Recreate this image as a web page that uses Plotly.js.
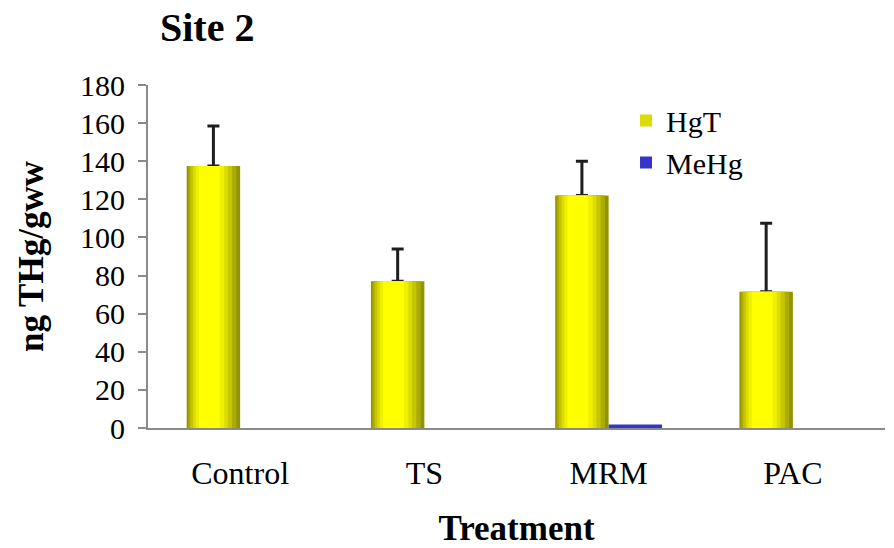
<!DOCTYPE html>
<html>
<head>
<meta charset="utf-8">
<script src="https://cdn.plot.ly/plotly-3.0.1.min.js"></script>
<style>html,body{margin:0;padding:0;background:#fff;}#chart{width:894px;height:548px;}</style>
</head>
<body>
<div id="chart"></div>
<script>
// ---- data ----
const categories = ["Control", "TS", "MRM", "PAC"];
const hgtValues = [137.5, 77, 122, 71.5];
const hgtErrors = [21, 17, 18, 36];
const mehgValues = [0, 0, 1.8, 0];
const yTickValues = [0, 20, 40, 60, 80, 100, 120, 140, 160, 180];

// ---- styling: simulated cylinder shading via overlaid bars ----
const barW = 0.29;
const shadeLayers = [
  {s: 0.00, e: 1.00, c: "#939300"},
  {s: 0.03, e: 0.93, c: "#abab00"},
  {s: 0.07, e: 0.85, c: "#c5c500"},
  {s: 0.12, e: 0.77, c: "#dcdc00"},
  {s: 0.17, e: 0.70, c: "#efef00"},
  {s: 0.23, e: 0.62, c: "#ffff00"}
];

const traces = [];
shadeLayers.forEach((L, i) => {
  const t = {
    type: "bar",
    x: categories,
    y: hgtValues,
    name: "HgT",
    legendgroup: "hgt",
    showlegend: i === 3,
    legendrank: 1,
    offset: -barW + L.s * barW,
    width: (L.e - L.s) * barW,
    marker: {color: L.c, line: {width: 0}},
    hoverinfo: "skip"
  };
  if (i === 0) {
    t.error_y = {
      type: "data", symmetric: false, array: hgtErrors,
      arrayminus: hgtErrors.map(() => 0),
      color: "#1e1e1e", thickness: 3, width: 6
    };
  }
  traces.push(t);
});
traces.push({
  type: "bar",
  x: categories,
  y: mehgValues,
  name: "MeHg",
  legendrank: 2,
  offset: 0,
  width: barW,
  marker: {color: "#3535cc", line: {width: 0}}
});

const serif = "Liberation Serif, Times New Roman, serif";
const layout = {
  width: 894, height: 548,
  margin: {l: 148, r: 9, t: 85, b: 120},
  paper_bgcolor: "#fff", plot_bgcolor: "#fff",
  barmode: "overlay",
  title: {
    text: "<b>Site 2</b>",
    font: {family: serif, size: 40, color: "#000"},
    xref: "container", yref: "container",
    x: 160 / 894, xanchor: "left",
    y: 1 - 27 / 548, yanchor: "middle"
  },
  xaxis: {
    type: "category",
    showline: true, linecolor: "#8a8a8a", linewidth: 2,
    ticks: "", showgrid: false, zeroline: false,
    tickfont: {family: serif, size: 32, color: "#000"},
    ticklabelstandoff: 16,
    title: {text: "<b>Treatment</b>", font: {family: serif, size: 35, color: "#000"}, standoff: 44}
  },
  yaxis: {
    range: [0, 180],
    tickmode: "array", tickvals: yTickValues,
    showline: true, linecolor: "#8a8a8a", linewidth: 2,
    ticks: "outside", ticklen: 8, tickwidth: 2, tickcolor: "#8a8a8a",
    showgrid: false, zeroline: false,
    tickfont: {family: serif, size: 30, color: "#000"},
    ticklabelstandoff: 7,
    title: {text: "<b>ng THg/gww</b>", font: {family: serif, size: 35, color: "#000"}, standoff: 26}
  },
  legend: {
    x: 0.6486, xanchor: "left",
    y: 0.972, yanchor: "top",
    bgcolor: "rgba(0,0,0,0)",
    font: {family: serif, size: 30, color: "#000"},
    tracegroupgap: 0
  },
  showlegend: true
};

Plotly.newPlot("chart", traces, layout, {displayModeBar: false, staticPlot: true});
</script>
</body>
</html>
